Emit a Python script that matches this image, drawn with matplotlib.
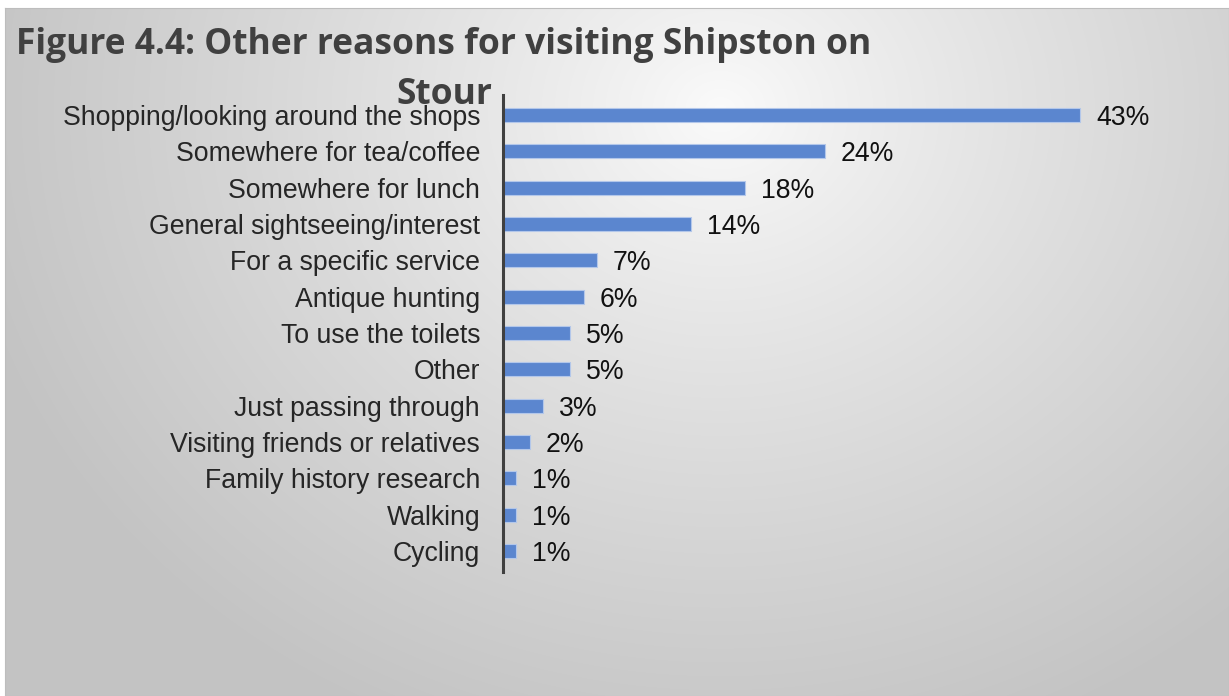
import numpy as np
import matplotlib
matplotlib.use("Agg")
import matplotlib.pyplot as plt

categories = [
    "Shopping/looking around the shops",
    "Somewhere for tea/coffee",
    "Somewhere for lunch",
    "General sightseeing/interest",
    "For a specific service",
    "Antique hunting",
    "To use the toilets",
    "Other",
    "Just passing through",
    "Visiting friends or relatives",
    "Family history research",
    "Walking",
    "Cycling",
]
shares = [43, 24, 18, 14, 7, 6, 5, 5, 3, 2, 1, 1, 1]
value_labels = [f"{v}%" for v in shares]
title = "Figure 4.4: Other reasons for visiting Shipston on\nStour"

W, H = 1229, 696
fig = plt.figure(figsize=(W / 100, H / 100), dpi=100)
fig.patch.set_facecolor("white")

# Radial grey backdrop panel
bx0, by0 = 5, 8
bg = fig.add_axes([bx0 / W, 0, (W - bx0) / W, (H - by0) / H])
yy, xx = np.mgrid[by0:H, bx0:W]
cx, cy = 720, 110
r = np.sqrt((xx - cx) ** 2 + ((yy - cy) * 1.15) ** 2)
t = np.clip(r / 780, 0, 1)
shade = 251 - 56 * t ** 0.85
img = np.dstack([shade, shade, shade]) / 255.0
bg.imshow(img, aspect="auto", extent=[0, 1, 0, 1], interpolation="bilinear")
bg.set_xticks([])
bg.set_yticks([])
for s in bg.spines.values():
    s.set_color("#bdbdbd")
    s.set_linewidth(0.8)

# Bar chart axes
ax_left, ax_top, ax_bottom = 503, 95, 572
px_per_unit = (1080 - ax_left) / 43
xmax = 50
ax_w = xmax * px_per_unit
ax = fig.add_axes([ax_left / W, (H - ax_bottom) / H, ax_w / W, (ax_bottom - ax_top) / H])
ax.patch.set_alpha(0)

y = np.arange(len(categories))
ax.barh(y, shares, height=0.38, color="#5b86cf", edgecolor="#b3c7ea", linewidth=0.8)
ax.set_xlim(0, xmax)
ax.set_ylim(len(categories) - 1 + 0.58, -0.55)

ax.set_yticks(y)
ax.set_yticklabels(categories, fontsize=19.2, color="#262626", family="Liberation Sans")
ax.tick_params(axis="y", length=0, pad=16.5)
ax.set_xticks([])
for side in ("top", "right", "bottom"):
    ax.spines[side].set_visible(False)
ax.spines["left"].set_color("#404040")
ax.spines["left"].set_linewidth(2.2)

for yi, v, lab in zip(y, shares, value_labels):
    ax.annotate(lab, xy=(v, yi), xytext=(16, -3), textcoords="offset pixels",
                ha="left", va="center", fontsize=19.2, color="#111111",
                family="Liberation Sans")

fig.text(444 / W, 1 - 70 / H, title, ha="center", va="center", fontsize=25.5,
         fontweight="bold", color="#404040", family="Open Sans",
         linespacing=1.55, multialignment="center")

fig.savefig("out.png", dpi=100, facecolor=fig.get_facecolor())
